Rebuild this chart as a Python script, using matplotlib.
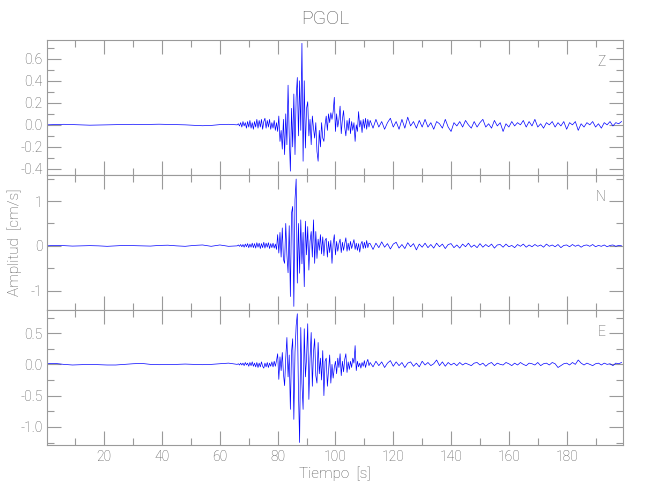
import numpy as np
import matplotlib
matplotlib.use("Agg")
import matplotlib.pyplot as plt
from matplotlib.ticker import MultipleLocator, FormatStrFormatter

station = "PGOL"
channels = ["Z", "N", "E"]

# tramos de muestreo (inicio [s], paso [s])
pre_start, pre_step = 0.0, 3.0
main_start, main_step = 66.0, 0.4
coda_start, coda_step = 112.0, 1.0

# ---- componente Z ----
z_pre = [0.0, 0.003, 0.005, 0.002, 0.0, -0.003, -0.002, 0.0, 0.002, 0.004, 0.005,
         0.003, 0.004, 0.006, 0.004, 0.002, 0.0, -0.004, -0.008, -0.005, 0.002, 0.005]
z_main = [0.00, 0.01, -0.01, 0.02, -0.02, 0.03, -0.01, 0.02, -0.03, 0.03,
          -0.02, 0.04, -0.03, 0.02, -0.04, 0.03, -0.02, 0.05, -0.03, 0.04,
          -0.02, 0.05, -0.04, 0.03, 0.06, -0.03, 0.04, -0.02, 0.05, -0.04,
          0.02, -0.03, 0.04, -0.05, 0.02, -0.06, 0.08, -0.15, -0.05, -0.22,
          0.05, -0.27, 0.10, -0.18, 0.36, -0.10, -0.42, 0.15, -0.20, 0.28,
          -0.27, 0.25, 0.43, -0.10, 0.40, -0.05, 0.74, -0.33, 0.40, -0.21,
          0.15, 0.21, -0.10, 0.05, -0.18, 0.08, -0.03, -0.12, 0.02, -0.24,
          -0.33, -0.05, -0.20, 0.02, -0.12, -0.15, 0.00, 0.08, -0.05, 0.10,
          0.02, 0.11, 0.05, 0.12, 0.25, -0.06, 0.10, -0.02, 0.05, 0.17,
          -0.08, 0.05, 0.13, -0.02, -0.10, 0.04, -0.05, 0.06, -0.08, 0.03,
          -0.05, 0.02, -0.15, 0.00, -0.06, 0.12, -0.02, 0.04, -0.07, 0.05,
          -0.03, 0.06, -0.04, 0.05, -0.02]
z_coda = [0.04, -0.03, 0.05, -0.02, 0.03, -0.04, 0.02, 0.06, -0.02, 0.03,
          -0.04, 0.05, -0.03, 0.07, -0.01, 0.03, -0.03, 0.04, -0.02, 0.05,
          -0.02, 0.02, -0.04, 0.03, 0.01, -0.03, 0.05, -0.02, -0.06, 0.02,
          -0.01, 0.03, -0.02, 0.04, 0.00, -0.03, 0.03, -0.02, 0.02, 0.05,
          -0.02, 0.01, -0.03, 0.04, -0.01, 0.02, -0.06, 0.01, -0.02, 0.03,
          -0.01, 0.02, 0.00, 0.04, -0.02, 0.03, -0.01, 0.05, -0.02, 0.01,
          -0.03, 0.02, 0.00, 0.03, -0.02, 0.02, -0.01, 0.03, -0.04, 0.02,
          0.00, 0.03, -0.05, 0.01, -0.02, 0.02, 0.00, 0.03, -0.02, 0.01,
          -0.03, 0.02, 0.00, 0.03, -0.01, 0.02, 0.01, 0.03]

# ---- componente N ----
n_pre = [0.0, 0.01, 0.005, -0.005, 0.0, 0.005, 0.0, -0.01, 0.0, 0.01, 0.005,
         0.0, -0.005, 0.01, 0.015, 0.0, -0.01, 0.01, 0.02, -0.01, 0.02, -0.01]
n_main = [0.00, 0.02, -0.01, 0.03, -0.02, 0.03, -0.03, 0.04, -0.02, 0.05,
          -0.04, 0.04, -0.03, 0.06, -0.04, 0.05, -0.05, 0.07, -0.03, 0.06,
          -0.06, 0.05, -0.04, 0.08, -0.05, 0.06, -0.03, 0.07, -0.06, 0.05,
          -0.04, 0.06, -0.05, 0.04, -0.08, 0.25, -0.16, 0.30, -0.25, 0.40,
          -0.30, -0.39, 0.50, -0.20, -0.60, 0.45, -1.13, 0.73, 0.88, -1.35,
          1.03, 1.49, -0.83, 0.50, -0.61, 0.58, -0.40, 0.30, -0.91, 0.55,
          -0.20, 0.43, -0.54, 0.10, 0.32, -0.25, 0.58, -0.39, 0.32, -0.28,
          0.15, -0.10, 0.25, -0.18, 0.20, -0.22, 0.12, 0.17, -0.25, 0.10,
          -0.15, 0.12, -0.39, 0.05, 0.25, -0.20, 0.10, -0.12, 0.05, 0.15,
          -0.15, 0.08, -0.10, 0.05, 0.18, -0.12, 0.06, -0.10, 0.10, -0.06,
          0.04, 0.14, -0.08, 0.06, -0.10, 0.05, -0.14, 0.04, 0.10, -0.06,
          0.08, -0.05, 0.12, -0.04, 0.06]
n_coda = [0.05, -0.08, 0.06, -0.04, 0.09, -0.03, 0.05, -0.07, 0.04, 0.08,
          -0.05, 0.03, -0.06, 0.07, -0.02, 0.05, -0.09, 0.04, -0.03, 0.06,
          -0.04, 0.03, -0.05, 0.06, -0.02, 0.04, -0.06, 0.03, 0.05, -0.04,
          0.02, -0.05, 0.04, -0.02, 0.06, -0.03, 0.02, -0.04, 0.05, -0.03,
          0.03, -0.02, 0.04, -0.05, 0.02, 0.03, -0.03, 0.04, -0.02, 0.01,
          -0.04, 0.03, -0.01, 0.04, -0.03, 0.02, -0.02, 0.03, -0.01, 0.02,
          -0.03, 0.04, -0.01, 0.02, -0.02, 0.03, -0.04, 0.01, 0.02, -0.02,
          0.03, -0.01, 0.02, -0.03, 0.01, 0.02, -0.01, 0.03, -0.02, 0.01,
          -0.01, 0.02, -0.02, 0.01, 0.02, -0.01, 0.01, 0.00]

# ---- componente E ----
e_pre = [0.01, 0.015, 0.0, -0.01, -0.005, 0.0, -0.005, -0.01, -0.01, 0.0, 0.01,
         0.015, 0.0, -0.005, 0.0, 0.0, 0.005, 0.0, -0.005, 0.0, 0.01, 0.02]
e_main = [0.00, 0.01, -0.01, 0.02, -0.01, 0.02, -0.02, 0.03, -0.01, 0.02,
          -0.03, 0.03, -0.02, 0.04, -0.03, 0.02, -0.04, 0.03, -0.05, 0.02,
          -0.04, 0.04, -0.03, -0.06, 0.02, -0.04, 0.03, -0.05, 0.02, -0.03,
          0.04, -0.04, 0.05, -0.03, 0.06, 0.17, -0.24, 0.12, -0.10, 0.19,
          -0.15, -0.34, 0.10, 0.43, -0.20, 0.15, -0.72, 0.20, 0.41, -0.88,
          0.20, 0.62, 0.81, -0.45, -1.25, 0.59, -0.30, -0.72, 0.57, -0.20,
          0.10, 0.65, -0.56, 0.10, 0.51, -0.35, 0.20, 0.41, -0.18, -0.30,
          0.35, -0.15, 0.10, -0.25, 0.22, -0.50, 0.05, 0.10, -0.35, -0.10,
          0.15, -0.30, 0.00, -0.22, -0.05, 0.05, -0.15, 0.10, -0.05, 0.17,
          -0.18, 0.05, -0.12, 0.08, 0.17, -0.13, 0.04, -0.08, 0.05, -0.05,
          0.10, 0.02, 0.30, -0.10, 0.05, -0.04, 0.02, -0.06, 0.03, -0.03,
          0.06, -0.05, 0.03, 0.08, -0.02]
e_coda = [0.03, -0.04, 0.05, -0.02, 0.04, -0.05, 0.02, 0.06, -0.03, 0.04,
          -0.02, 0.03, -0.05, 0.02, 0.04, -0.03, 0.02, -0.04, 0.05, -0.01,
          0.03, -0.02, 0.01, 0.07, -0.02, 0.04, -0.03, 0.03, -0.01, 0.02,
          -0.02, 0.03, -0.01, 0.02, 0.00, -0.02, 0.02, 0.03, -0.01, 0.02,
          -0.03, 0.01, 0.03, -0.02, 0.02, 0.00, -0.01, 0.03, 0.01, -0.02,
          0.02, -0.01, 0.03, 0.00, -0.02, 0.02, 0.01, -0.01, 0.03, -0.02,
          0.01, 0.02, -0.01, 0.03, 0.01, -0.05, -0.02, 0.01, 0.02, -0.01,
          0.03, 0.00, 0.07, 0.02, -0.01, 0.02, 0.00, -0.02, 0.01, 0.02,
          -0.01, 0.02, 0.00, 0.01, -0.02, 0.02, 0.01, 0.03]

traces = {
    "Z": (z_pre, z_main, z_coda),
    "N": (n_pre, n_main, n_coda),
    "E": (e_pre, e_main, e_coda),
}

# limites y ticks de cada panel
ylims = {"Z": (-0.455, 0.77), "N": (-1.43, 1.58), "E": (-1.29, 0.87)}
ymajor = {"Z": 0.2, "N": 1.0, "E": 0.5}
yminor = {"Z": 0.1, "N": 0.5, "E": 0.25}
yfmt = {"Z": "%.1f", "N": "%.0f", "E": "%.1f"}


def build_series(pre, main, coda):
    t = np.concatenate([
        pre_start + pre_step * np.arange(len(pre)),
        main_start + main_step * np.arange(len(main)),
        coda_start + coda_step * np.arange(len(coda)),
    ])
    return t, np.array(pre + main + coda)


plt.rcParams["font.family"] = ["Roboto", "DejaVu Sans"]
plt.rcParams["font.weight"] = "light"
plt.rcParams["axes.labelweight"] = "light"
gray = "#555555"
axcol = "#9a9a9a"

fig = plt.figure(figsize=(6.5, 5), dpi=100)
left, width = 0.0728, 0.8857
bottoms = [0.65, 0.38, 0.11]
axes = []
for i, ch in enumerate(channels):
    ax = fig.add_axes([left, bottoms[i], width, 0.27])
    t, amp = build_series(*traces[ch])
    ax.plot(t, amp, color="#0000ff", lw=0.5)
    ax.set_xlim(0.3, 199.5)
    ax.set_ylim(*ylims[ch])
    ax.xaxis.set_major_locator(MultipleLocator(20))
    ax.xaxis.set_minor_locator(MultipleLocator(10))
    ax.yaxis.set_major_locator(MultipleLocator(ymajor[ch]))
    ax.yaxis.set_minor_locator(MultipleLocator(yminor[ch]))
    ax.yaxis.set_major_formatter(FormatStrFormatter(yfmt[ch]))
    ax.tick_params(which="both", direction="in", top=True, right=True,
                   color=axcol, labelcolor=gray, labelsize=10, width=0.8)
    ax.tick_params(which="major", length=10)
    ax.tick_params(which="minor", length=5)
    for s in ax.spines.values():
        s.set_color(axcol)
        s.set_linewidth(0.8)
    if i < 2:
        ax.tick_params(labelbottom=False)
    ax.text(0.97, 0.84, ch, transform=ax.transAxes, ha="right", va="center",
            color=gray, fontsize=10)
    axes.append(ax)

axes[2].set_xlabel("Tiempo  [s]", color=gray, fontsize=11, labelpad=2)
fig.text(0.022, 0.515, "Amplitud  [cm/s]", rotation=90, ha="center",
         va="center", color=gray, fontsize=11)
fig.text(0.5, 0.962, station, ha="center", va="center", color=gray, fontsize=14)

fig.savefig("out.png", dpi=100)
